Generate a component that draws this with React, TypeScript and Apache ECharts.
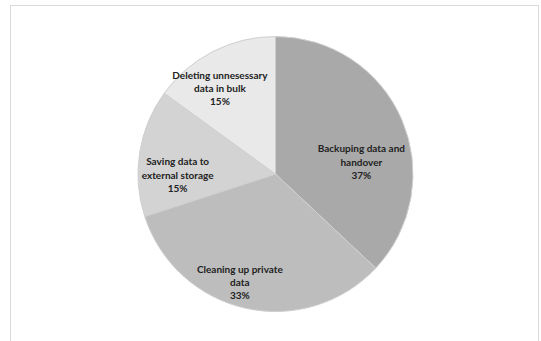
import React, { useEffect, useRef } from "react";
import * as echarts from "echarts";

const categories = [
  "Backuping data and\nhandover",
  "Cleaning up private\ndata",
  "Saving data to\nexternal storage",
  "Deleting unnesessary\ndata in bulk",
];
const values = [37, 33, 15, 15];
const colors = ["#a9a9a9", "#bdbdbd", "#d3d3d3", "#e9e9e9"];
const labelOffsets = [
  [20, 16],
  [-20, 38],
  [-27, 12],
  [-23, -22],
];

export default function App() {
  const ref = useRef<HTMLDivElement>(null);
  useEffect(() => {
    if (!ref.current) return;
    const chart = echarts.init(ref.current, null, { renderer: "svg" });
    chart.setOption({
      animation: false,
      backgroundColor: "#ffffff",
      graphic: [
        {
          type: "rect",
          shape: { x: 10.5, y: 5.5, width: 528, height: 345 },
          style: { fill: "none", stroke: "#d9d9d9", lineWidth: 1 },
          silent: true,
        },
      ],
      series: [
        {
          type: "pie",
          center: [275.5, 174],
          radius: [0, 137.5],
          startAngle: 90,
          clockwise: true,
          avoidLabelOverlap: false,
          itemStyle: { borderColor: "#cfcfcf", borderWidth: 1 },
          label: {
            show: true,
            position: "inside",
            formatter: (p: any) => `${p.name}\n${p.value}%`,
            fontFamily: "Lato",
            fontWeight: "bold",
            fontSize: 10,
            lineHeight: 13.3,
            color: "#222222",
            align: "center",
          },
          labelLine: { show: false },
          emphasis: { disabled: true },
          data: categories.map((name, i) => ({
            name,
            value: values[i],
            itemStyle: { color: colors[i] },
            label: { offset: labelOffsets[i] },
          })),
        },
      ],
    });
    return () => chart.dispose();
  }, []);
  return (
    <div
      ref={ref}
      style={{ position: "fixed", left: 0, top: 0, width: 541, height: 341 }}
    />
  );
}
